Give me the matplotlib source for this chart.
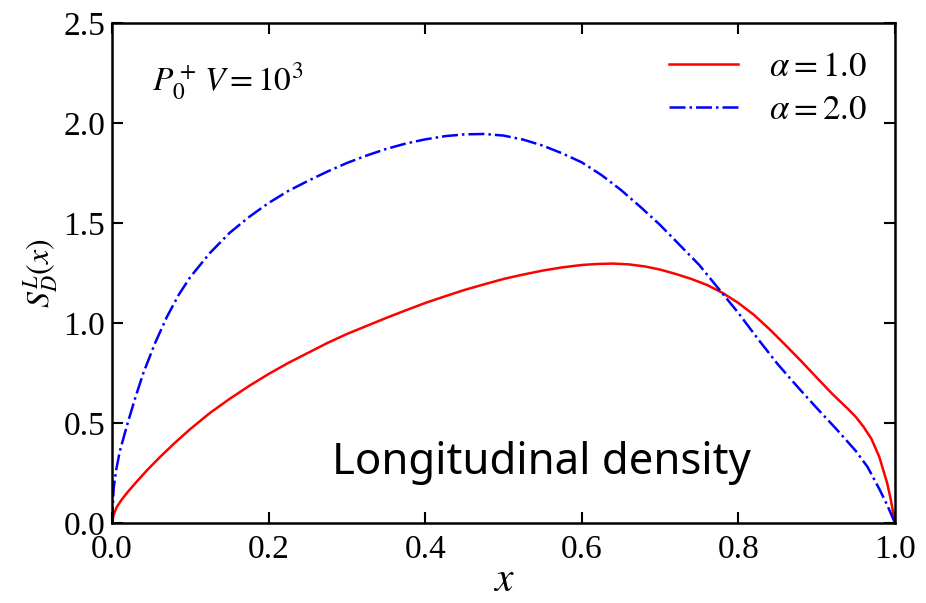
import matplotlib
matplotlib.use('Agg')
import matplotlib.pyplot as plt

plt.rcParams['font.family'] = ['Liberation Serif', 'DejaVu Serif']
plt.rcParams['mathtext.fontset'] = 'stix'

# alpha = 1.0 (red, solid)
x_a1 = [0, 0.002, 0.006, 0.012, 0.02, 0.03, 0.045, 0.06, 0.08, 0.1, 0.125, 0.15, 0.175,
        0.2, 0.225, 0.25, 0.275, 0.3, 0.325, 0.35, 0.375, 0.4, 0.425, 0.45, 0.475, 0.5,
        0.525, 0.55, 0.575, 0.6, 0.62, 0.64, 0.66, 0.68, 0.70, 0.72, 0.74, 0.76, 0.78,
        0.80, 0.82, 0.84, 0.86, 0.88, 0.90, 0.92, 0.94, 0.95, 0.96, 0.97, 0.98, 0.99,
        0.995, 1.0]
y_a1 = [0, 0.04, 0.08, 0.115, 0.155, 0.2, 0.265, 0.325, 0.40, 0.47, 0.55, 0.62, 0.685,
        0.745, 0.80, 0.85, 0.90, 0.945, 0.985, 1.025, 1.063, 1.10, 1.133, 1.165, 1.193,
        1.22, 1.242, 1.262, 1.278, 1.29, 1.295, 1.297, 1.293, 1.283, 1.267, 1.245, 1.22,
        1.19, 1.15, 1.10, 1.04, 0.968, 0.89, 0.81, 0.727, 0.645, 0.57, 0.53, 0.48,
        0.42, 0.33, 0.20, 0.11, 0]

# alpha = 2.0 (blue, dash-dot)
x_a2 = [0, 0.002, 0.005, 0.01, 0.02, 0.03, 0.04, 0.055, 0.07, 0.085, 0.1, 0.125, 0.15,
        0.175, 0.2, 0.225, 0.25, 0.275, 0.3, 0.325, 0.35, 0.375, 0.4, 0.425, 0.45,
        0.475, 0.5, 0.525, 0.55, 0.575, 0.6, 0.625, 0.65, 0.675, 0.7, 0.725, 0.75,
        0.775, 0.8, 0.825, 0.85, 0.875, 0.9, 0.925, 0.95, 0.965, 0.98, 0.99, 1.0]
y_a2 = [0, 0.17, 0.26, 0.36, 0.50, 0.63, 0.75, 0.90, 1.03, 1.14, 1.23, 1.35, 1.45,
        1.53, 1.60, 1.66, 1.71, 1.757, 1.80, 1.837, 1.87, 1.897, 1.918, 1.934, 1.943,
        1.945, 1.937, 1.917, 1.887, 1.848, 1.803, 1.74, 1.665, 1.58, 1.49, 1.39, 1.29,
        1.17, 1.05, 0.92, 0.795, 0.683, 0.575, 0.47, 0.36, 0.28, 0.17, 0.09, 0]

fig = plt.figure(figsize=(9.26, 6.03), dpi=100)
ax = fig.add_axes([0.121, 0.1327, 0.8455, 0.8292])

ax.plot(x_a1, y_a1, color='red', lw=1.8, label=r'$\alpha = 1.0$')
ax.plot(x_a2, y_a2, color='blue', lw=1.8, ls='-.', label=r'$\alpha = 2.0$')

ax.set_xlim(0, 1)
ax.set_ylim(0, 2.5)
ax.set_xticks([0, 0.2, 0.4, 0.6, 0.8, 1.0])
ax.set_yticks([0, 0.5, 1.0, 1.5, 2.0, 2.5])
ax.set_xticklabels(['0.0', '0.2', '0.4', '0.6', '0.8', '1.0'])
ax.set_yticklabels(['0.0', '0.5', '1.0', '1.5', '2.0', '2.5'])
ax.tick_params(direction='in', top=True, right=True, length=8, width=1.5,
               labelsize=24)
ax.tick_params(axis='x', pad=8)
ax.tick_params(axis='y', pad=5)
for s in ax.spines.values():
    s.set_linewidth(1.8)

ax.set_xlabel(r'$x$', fontsize=30, labelpad=-2)
ax.set_ylabel(r'$S_D^L(x)$', fontsize=23, labelpad=2)

ax.text(0.051, 2.21, r'$P_0^+\,V = 10^3$', fontsize=24, va='center', ha='left')
ax.text(0.549, 0.30, 'Longitudinal density', fontsize=31.5, family='Noto Sans',
        ha='center', va='center')

ax.legend(loc='upper right', fontsize=25, frameon=False, handlelength=2.0,
          handletextpad=0.9, labelspacing=0.3, borderaxespad=0.4)

fig.savefig('out.png', dpi=100)
